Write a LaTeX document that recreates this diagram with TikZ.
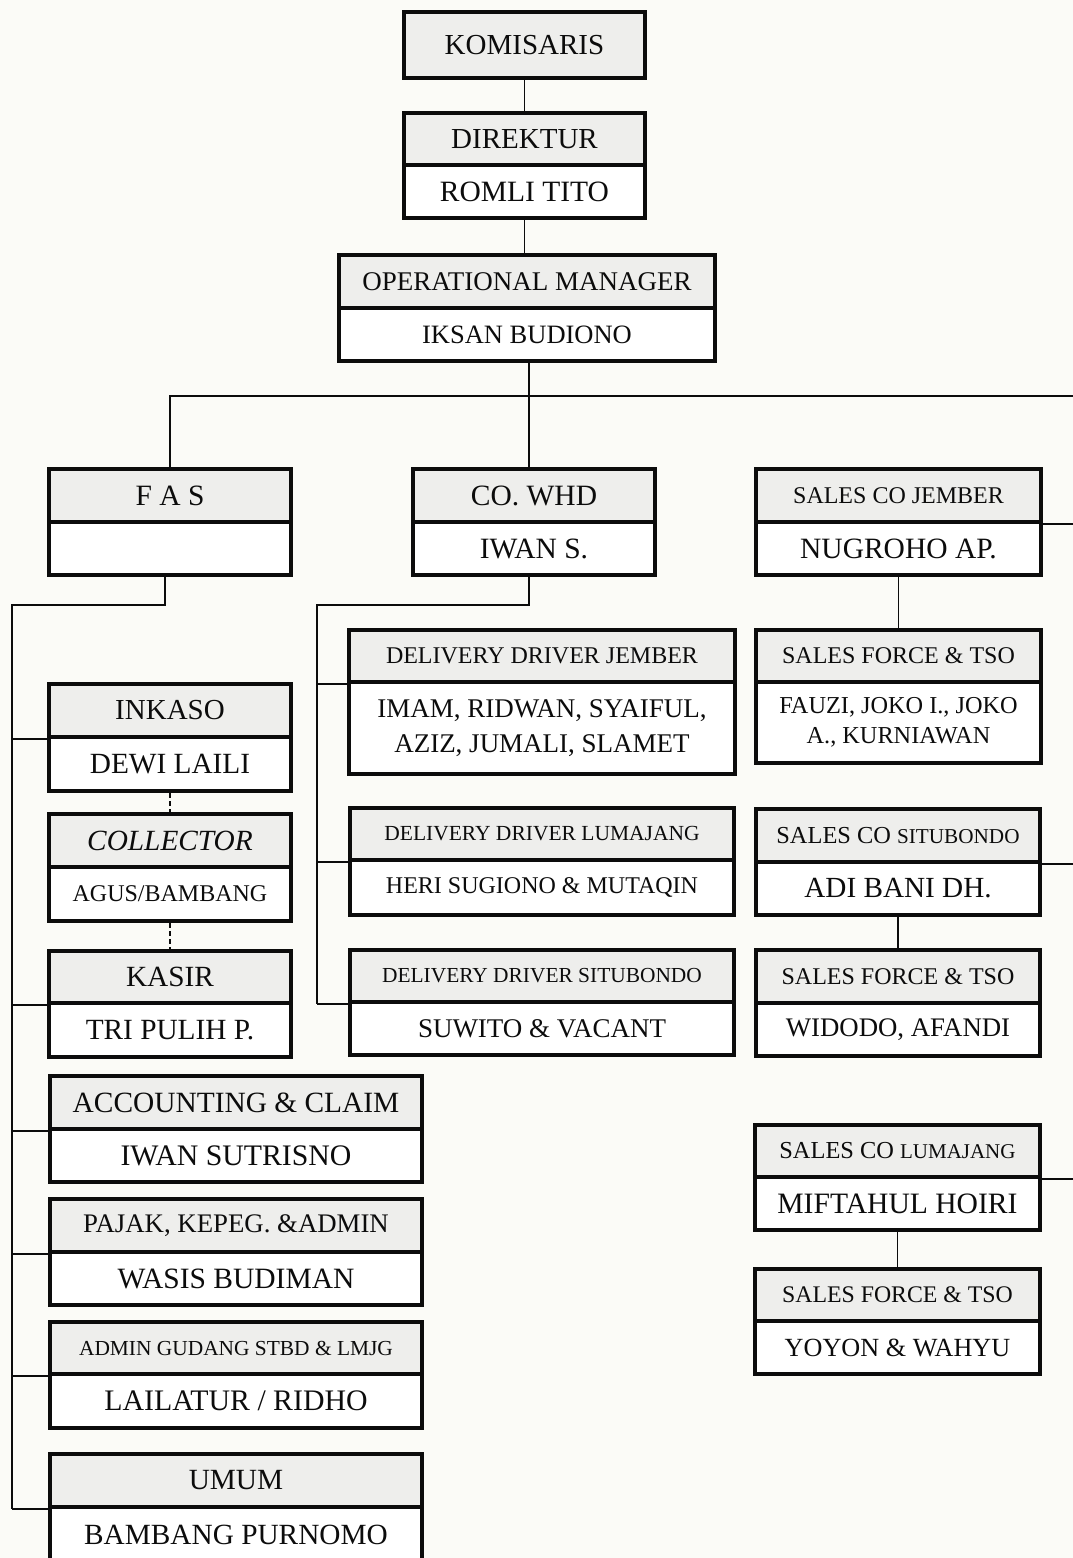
\documentclass[tikz,border=0pt]{standalone}
\usepackage{fontspec}
\setmainfont{Liberation Serif}
\definecolor{pagebg}{RGB}{251,251,247}
\definecolor{headfill}{RGB}{238,238,236}
\definecolor{inkc}{RGB}{12,12,12}
\tikzset{
  cell/.style={draw=inkc, line width=4.5pt, inner sep=0pt, align=center, text=inkc},
  headcell/.style={cell, fill=headfill},
  namecell/.style={cell, fill=white},
  link/.style={draw=inkc, line width=1.6pt},
  dotlink/.style={draw=inkc, line width=2pt, dash pattern=on 5pt off 3pt},
}
\newcommand{\fsz}[2]{\fontsize{#1}{#2}\selectfont}
% centred block of several lines with its own size and line spacing
\newcommand{\twolines}[4]{\parbox{#1pt}{\centering\fsz{#2}{#3}#4\par}}
% two-part box: name, left, right, top, separator, bottom, heading, holder
\newcommand{\orgbox}[8]{%
  \node[headcell, minimum width={#3-#2}, minimum height={#5-#4}] (#1t) at ({(#2+#3)/2},{(#4+#5)/2}) {#7};
  \node[namecell, minimum width={#3-#2}, minimum height={#6-#5}] (#1b) at ({(#2+#3)/2},{(#5+#6)/2}) {#8};
}
\begin{document}
\begin{tikzpicture}[x=1pt, y=-1pt]
\fill[pagebg] (0,0) rectangle (1073,1558);
\useasboundingbox (0,0) rectangle (1073,1558);

% top of the chart
\node[headcell, minimum width=241, minimum height=66] (kom) at (524.5,45) {\fsz{29}{33}KOMISARIS};
\orgbox{dir}{404}{645}{113}{165}{218}{\fsz{29}{33}DIREKTUR}{\fsz{29.5}{33}ROMLI TITO}
\orgbox{om}{339}{715}{255}{308}{361}{\fsz{27}{31}OPERATIONAL MANAGER}{\fsz{26.5}{30}IKSAN BUDIONO}

% second level
\orgbox{fas}{49}{291}{469}{522}{575}{\fsz{29.5}{33}F A S}{}
\orgbox{whd}{413}{655}{469}{522}{575}{\fsz{29.5}{33}CO. WHD}{\fsz{29.5}{33}IWAN S.}
\orgbox{scj}{756}{1041}{469}{522}{575}{\fsz{24}{28}SALES CO JEMBER}{\fsz{29.5}{33}NUGROHO AP.}

% finance column
\orgbox{ink}{49}{291}{684}{737}{791}{\fsz{29}{33}INKASO}{\fsz{29.3}{33}DEWI LAILI}
\orgbox{col}{49}{291}{814}{867}{921}{\fsz{29.3}{33}\itshape COLLECTOR}{\fsz{24}{28}AGUS/BAMBANG}
\orgbox{kas}{49}{291}{951}{1003}{1057}{\fsz{29.3}{33}KASIR}{\fsz{29.3}{33}TRI PULIH P.}
\orgbox{acc}{50}{422}{1076}{1129}{1182}{\fsz{29.4}{33}ACCOUNTING \& CLAIM}{\fsz{29.8}{33}IWAN SUTRISNO}
\orgbox{paj}{50}{422}{1199}{1252}{1305}{\fsz{26.8}{30}PAJAK, KEPEG. \&ADMIN}{\fsz{29.5}{33}WASIS BUDIMAN}
\orgbox{adm}{50}{422}{1322}{1374}{1428}{\fsz{21.4}{25}ADMIN GUDANG STBD \& LMJG}{\fsz{29.8}{33}LAILATUR / RIDHO}
\orgbox{umu}{50}{422}{1454}{1507}{1562}{\fsz{29.3}{33}UMUM}{\fsz{29.3}{33}BAMBANG PURNOMO}

% warehouse column
\orgbox{ddj}{349}{735}{630}{682}{774}{\fsz{24}{28}DELIVERY DRIVER JEMBER}
  {\twolines{370}{27}{35}{IMAM, RIDWAN, SYAIFUL,\\AZIZ, JUMALI, SLAMET}}
\orgbox{ddl}{350}{734}{808}{860}{915}{\fsz{21.5}{25}DELIVERY DRIVER LUMAJANG}{\fsz{24}{28}HERI SUGIONO \& MUTAQIN}
\orgbox{dds}{350}{734}{950}{1002}{1055}{\fsz{21.4}{25}DELIVERY DRIVER SITUBONDO}{\fsz{27}{31}SUWITO \& VACANT}

% sales column
\orgbox{sfj}{756}{1041}{630}{682}{763}{\fsz{24}{28}SALES FORCE \& TSO}
  {\twolines{270}{24.3}{30}{FAUZI, JOKO I., JOKO\\A., KURNIAWAN}}
\orgbox{scs}{756}{1040}{809}{862}{915}{\fsz{24.4}{28}SALES CO {\fsz{21.2}{25}SITUBONDO}}{\fsz{29.2}{33}ADI BANI DH.}
\orgbox{sfs}{756}{1040}{950}{1003}{1056}{\fsz{24}{28}SALES FORCE \& TSO}{\fsz{26.8}{30}WIDODO, AFANDI}
\orgbox{scl}{755}{1040}{1125}{1177}{1230}{\fsz{24.4}{28}SALES CO {\fsz{21}{25}LUMAJANG}}{\fsz{29.6}{33}MIFTAHUL HOIRI}
\orgbox{sfl}{755}{1040}{1269}{1321}{1374}{\fsz{23.8}{28}SALES FORCE \& TSO}{\fsz{26.2}{30}YOYON \& WAHYU}

% bus lines
\coordinate (busR) at (1073,396);
\coordinate (finTop) at (12,605);
\coordinate (whTop) at (317,605);

% connectors, top to bottom
\draw[link] (kom.south) -- (kom.south |- dirt.north);
\draw[link] (dirb.south) -- (dirb.south |- omt.north);
\draw[link] ([xshift=2pt]omb.south) -- ([xshift=2pt]omb.south |- whdt.north);
\draw[link] (fast.north) |- (busR);

% finance branch
\draw[link] ([xshift=-5pt]fasb.south) |- (finTop) -- (finTop |- umut.south);
\foreach \b in {ink,kas,acc,paj,adm,umu}
  \draw[link] (finTop |- \b t.south west) -- (\b t.south west);
\draw[dotlink] (inkb.south) -- (colt.north);
\draw[dotlink] (colb.south) -- (kast.north);

% warehouse branch
\draw[link] ([xshift=-5pt]whdb.south) |- (whTop) -- (whTop |- ddst.south);
\foreach \b in {ddj,ddl,dds}
  \draw[link] (whTop |- \b t.south west) -- (\b t.south west);

% sales branch
\foreach \b in {scj,scs,scl}
  \draw[link] (\b t.south east) -- (busR |- \b t.south east);
\draw[link] (scjb.south) -- (sfjt.north);
\draw[link] (scsb.south) -- (sfst.north);
\draw[link] (sclb.south) -- (sflt.north);
\end{tikzpicture}
\end{document}
